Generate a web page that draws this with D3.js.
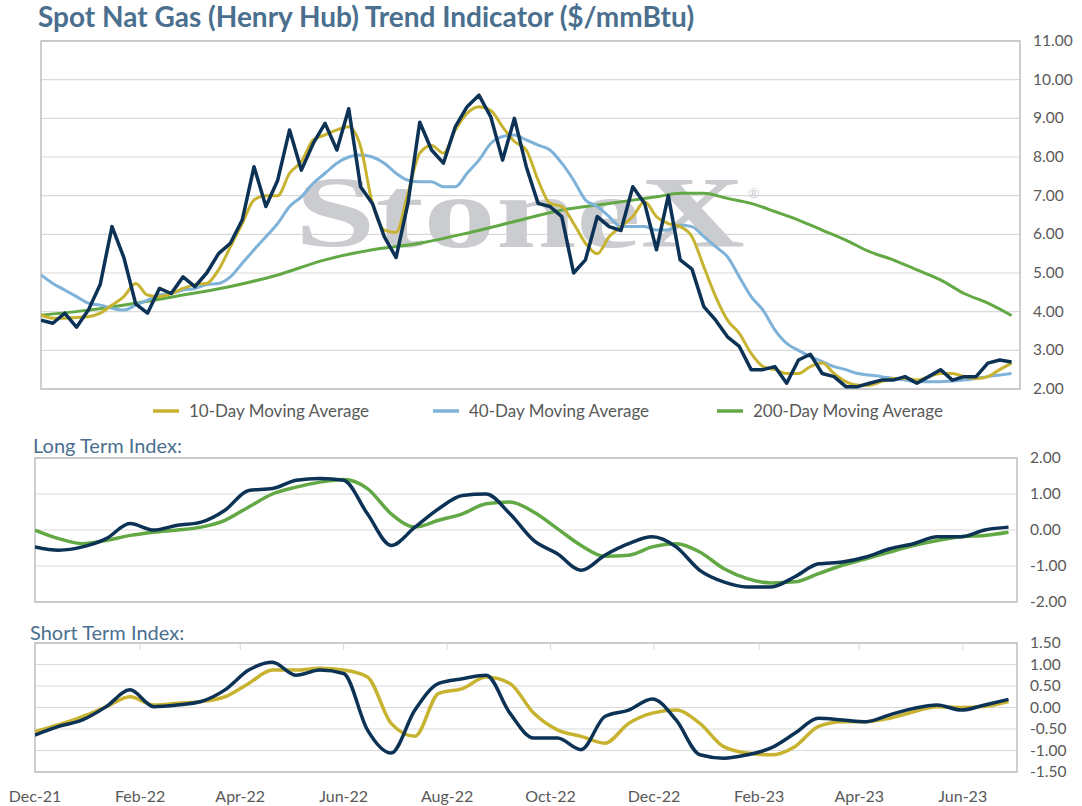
<html>
<head>
<script src="https://cdn.jsdelivr.net/npm/d3@7"></script>
<style>
  body { margin: 0; background: #fff; }
  text { font-family: Lato, "Open Sans", sans-serif; }
</style>
</head>
<body>
<svg id="chart" width="1082" height="806"></svg>
<script>
// weekly observations starting 2021-12-01
const spot = [3.78,3.70,3.96,3.60,4.04,4.70,6.20,5.40,4.20,3.96,4.60,4.47,4.90,4.65,5.00,5.50,
  5.77,6.37,7.75,6.72,7.40,8.70,7.66,8.35,8.87,8.18,9.25,7.23,6.80,5.94,5.40,6.80,
  8.90,8.18,7.84,8.78,9.30,9.60,9.04,7.92,9.00,7.75,6.80,6.72,6.46,5.00,5.34,6.46,
  6.20,6.10,7.23,6.80,5.60,7.00,5.34,5.10,4.13,3.78,3.35,3.10,2.50,2.50,2.58,2.15,
  2.75,2.90,2.40,2.32,2.06,2.06,2.15,2.23,2.23,2.32,2.15,2.32,2.50,2.23,2.32,2.32,
  2.67,2.75,2.70];
const ma10 = [3.91,3.83,3.83,3.85,3.87,3.96,4.17,4.39,4.73,4.43,4.39,4.47,4.60,4.70,4.73,5.08,
  5.68,6.28,6.89,7.00,7.00,7.58,7.88,8.44,8.57,8.70,8.78,8.27,6.80,6.11,6.05,7.06,
  8.10,8.30,8.10,8.70,9.13,9.30,9.20,8.78,8.40,8.18,7.40,6.80,6.72,6.28,5.77,5.50,
  5.94,6.20,6.46,6.84,6.46,6.28,6.20,5.94,5.16,4.39,3.78,3.44,2.92,2.58,2.50,2.40,
  2.40,2.58,2.67,2.40,2.19,2.10,2.10,2.19,2.27,2.27,2.23,2.32,2.40,2.40,2.32,2.27,
  2.32,2.50,2.67];
const ma40 = [4.95,4.73,4.56,4.39,4.22,4.17,4.09,4.04,4.17,4.30,4.43,4.47,4.56,4.60,4.70,4.73,
  4.90,5.25,5.60,5.94,6.28,6.72,6.97,7.32,7.58,7.84,8.00,8.05,8.00,7.84,7.58,7.40,
  7.36,7.36,7.23,7.23,7.58,7.92,8.35,8.53,8.57,8.44,8.31,8.18,7.84,7.40,6.89,6.72,
  6.46,6.20,6.20,6.20,6.11,6.11,6.24,6.20,5.94,5.68,5.42,4.90,4.39,4.04,3.53,3.18,
  3.00,2.84,2.71,2.58,2.50,2.40,2.36,2.32,2.27,2.23,2.19,2.19,2.19,2.21,2.23,2.27,
  2.32,2.36,2.40];
// 200-day average, sampled weeks
const ma200Weeks = [0,4,8,12,16,20,24,28,32,36,40,44,48,52,54,56,58,60,62,64,66,68,70,72,74,76,78,80,82];
const ma200 = [3.91,4.04,4.22,4.43,4.65,4.95,5.34,5.60,5.77,6.03,6.33,6.63,6.80,6.97,7.06,7.06,
  6.93,6.80,6.59,6.37,6.11,5.85,5.55,5.34,5.08,4.82,4.47,4.22,3.90];

// indices, every 2 weeks
const longNavy = [-0.47,-0.56,-0.47,-0.24,0.18,0.00,0.13,0.22,0.55,1.10,1.15,1.38,1.43,1.38,0.45,-0.43,
  0.08,0.59,0.96,1.00,0.45,-0.29,-0.66,-1.12,-0.70,-0.38,-0.19,-0.47,-1.12,-1.44,-1.58,-1.58,
  -1.30,-0.94,-0.89,-0.75,-0.52,-0.38,-0.19,-0.19,0.00,0.08];
const longGreen = [0.00,-0.24,-0.38,-0.29,-0.15,-0.06,0.00,0.08,0.27,0.64,1.00,1.19,1.33,1.40,1.15,0.45,
  0.08,0.27,0.45,0.73,0.78,0.50,0.04,-0.43,-0.73,-0.70,-0.47,-0.38,-0.61,-1.07,-1.35,-1.47,
  -1.44,-1.21,-0.98,-0.80,-0.61,-0.43,-0.29,-0.19,-0.15,-0.06];
const shortNavy = [-0.64,-0.44,-0.29,0.02,0.41,0.02,0.06,0.14,0.41,0.87,1.05,0.75,0.87,0.79,-0.52,-1.06,
  -0.06,0.56,0.67,0.75,-0.13,-0.71,-0.71,-0.98,-0.21,-0.06,0.20,-0.29,-1.10,-1.18,-1.10,-0.94,
  -0.60,-0.25,-0.29,-0.33,-0.17,-0.02,0.06,-0.06,0.06,0.19];
const shortYellow = [-0.56,-0.40,-0.21,0.02,0.25,0.06,0.10,0.14,0.25,0.56,0.87,0.87,0.91,0.87,0.71,-0.37,
  -0.67,0.33,0.44,0.71,0.56,-0.13,-0.52,-0.67,-0.83,-0.37,-0.13,-0.06,-0.37,-0.91,-1.06,-1.10,
  -0.91,-0.44,-0.33,-0.33,-0.25,-0.10,0.02,0.00,0.03,0.14];

const xTicks = ["Dec-21","Feb-22","Apr-22","Jun-22","Aug-22","Oct-22","Dec-22","Feb-23","Apr-23","Jun-23"];

const NAVY = "#0c3256", YEL = "#c8b330", BLUE = "#7eb2d8", GREEN = "#62a844";
const start = new Date(2021, 11, 1), end = new Date(2023, 6, 3);
const wk = i => d3.timeDay.offset(start, i * 7);
const svg = d3.select("#chart");

svg.append("text").attr("x", 38).attr("y", 27).attr("font-size", 28).attr("font-weight", 700)
  .attr("fill", "#4b6f8e").text("Spot Nat Gas (Henry Hub) Trend Indicator ($/mmBtu)");

function panel(x0, x1, y0, y1, dom, step, labX) {
  const x = d3.scaleTime().domain([start, end]).range([x0, x1]);
  const y = d3.scaleLinear().domain(dom).range([y1, y0]);
  const g = svg.append("g");
  const ticks = d3.range(dom[0], dom[1] + step / 2, step);
  g.selectAll("line.grid").data(ticks).join("line")
    .attr("x1", x0).attr("x2", x1).attr("y1", d => y(d)).attr("y2", d => y(d))
    .attr("stroke", "#d9d9d9").attr("stroke-width", 1.2);
  g.append("rect").attr("x", x0).attr("y", y0).attr("width", x1 - x0).attr("height", y1 - y0)
    .attr("fill", "none").attr("stroke", "#bfbfbf").attr("stroke-width", 1.5);
  g.selectAll("text.tk").data(ticks).join("text")
    .attr("x", labX).attr("y", d => y(d) + 5).attr("font-size", 15.5).attr("fill", "#595959")
    .text(d => d.toFixed(2));
  const clip = "c" + y0;
  svg.append("clipPath").attr("id", clip).append("rect")
    .attr("x", x0).attr("y", y0).attr("width", x1 - x0).attr("height", y1 - y0);
  const lines = svg.append("g").attr("clip-path", `url(#${clip})`);
  return {x, y, lines};
}

function draw(p, dates, vals, color, w, smooth) {
  const line = d3.line().x((d, i) => p.x(dates[i])).y(d => p.y(d));
  if (smooth) line.curve(d3.curveMonotoneX);
  p.lines.append("path").datum(vals).attr("d", line).attr("fill", "none")
    .attr("stroke", color).attr("stroke-width", w).attr("stroke-linejoin", "round");
}

// top panel
const main = panel(41, 1020, 41, 389, [2, 11], 1, 1033);
main.lines.append("text").attr("x", 295).attr("y", 247)
  .style("font-family", "'Liberation Serif', 'DejaVu Serif', serif").attr("font-size", 102)
  .attr("textLength", 450).attr("lengthAdjust", "spacingAndGlyphs")
  .attr("font-weight", 700).attr("fill", "#cbcccf").text("StoneX");
main.lines.append("text").attr("x", 748).attr("y", 198).attr("font-size", 14).attr("fill", "#cbcccf").text("®");
const wSpot = spot.map((d, i) => wk(i));
draw(main, ma200Weeks.map(wk), ma200, GREEN, 3, true);
draw(main, wSpot, ma40, BLUE, 3, true);
draw(main, wSpot, ma10, YEL, 3, true);
draw(main, wSpot, spot, NAVY, 3.5, false);

// legend
const legend = [["10-Day Moving Average", YEL, 153], ["40-Day Moving Average", BLUE, 433], ["200-Day Moving Average", GREEN, 717]];
legend.forEach(([t, c, lx]) => {
  svg.append("line").attr("x1", lx).attr("x2", lx + 26).attr("y1", 411).attr("y2", 411)
    .attr("stroke", c).attr("stroke-width", 3.5);
  svg.append("text").attr("x", lx + 36).attr("y", 417).attr("font-size", 17).attr("fill", "#595959").text(t);
});

// long term
svg.append("text").attr("x", 33).attr("y", 453).attr("font-size", 20).attr("fill", "#4b6f8e").text("Long Term Index:");
const lp = panel(35, 1017, 458, 602, [-2, 2], 1, 1030);
const w2 = longNavy.map((d, i) => wk(i * 2));
draw(lp, w2, longGreen, GREEN, 3.5, true);
draw(lp, w2, longNavy, NAVY, 3.5, true);

// short term
svg.append("text").attr("x", 30).attr("y", 640).attr("font-size", 20).attr("fill", "#4b6f8e").text("Short Term Index:");
const sp = panel(35, 1017, 643, 772, [-1.5, 1.5], 0.5, 1030);
draw(sp, w2, shortYellow, YEL, 3.5, true);
draw(sp, w2, shortNavy, NAVY, 3.5, true);

// x axis labels
const months = xTicks.map((t, i) => d3.timeMonth.offset(start, i * 2));
svg.selectAll("line.mt").data(months.slice(1)).join("line")
  .attr("x1", d => sp.x(d)).attr("x2", d => sp.x(d)).attr("y1", 643).attr("y2", 650)
  .attr("stroke", "#d9d9d9");
svg.selectAll("text.xl").data(xTicks).join("text")
  .attr("x", (d, i) => Math.max(sp.x(months[i]), 30)).attr("y", 802).attr("text-anchor", "middle")
  .attr("font-size", 16).attr("fill", "#595959").text(d => d);
</script>
</body>
</html>
